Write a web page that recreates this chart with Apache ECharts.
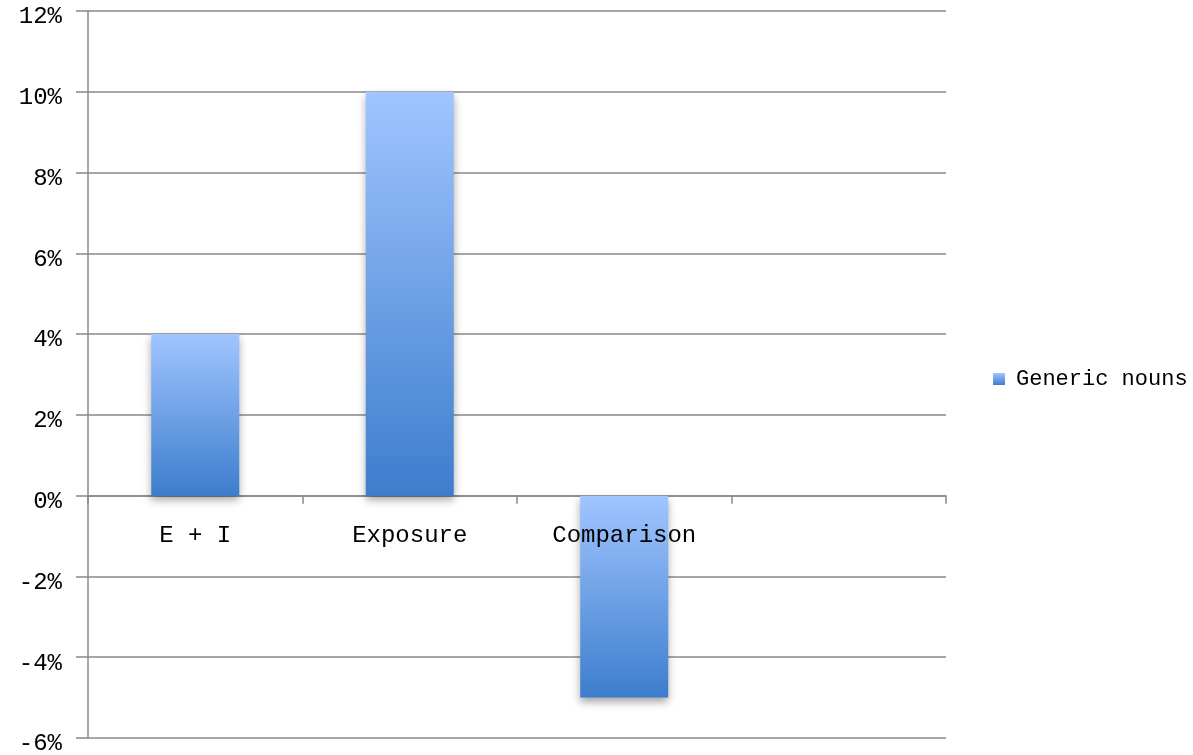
<!DOCTYPE html>
<html>
<head>
<meta charset="utf-8">
<script src="https://cdn.jsdelivr.net/npm/echarts@6/dist/echarts.min.js"></script>
<style>html,body{margin:0;padding:0;background:#fff}#c{width:1193px;height:755px}</style>
</head>
<body>
<div id="c"></div>
<script>
const categories = ['E + I', 'Exposure', 'Comparison', ''];
const seriesName = 'Generic nouns';
const values = [4, 10, -5, null];
const yTicks = { min: -6, max: 12, interval: 2 };

const font = 'Liberation Mono';
const grad = new echarts.graphic.LinearGradient(0, 0, 0, 1, [
  { offset: 0, color: '#a0c5ff' },
  { offset: 1, color: '#3d7dcd' }
]);
const chart = echarts.init(document.getElementById('c'));
chart.setOption({
  animation: false,
  backgroundColor: '#fff',
  grid: { left: 88, right: 247, top: 11, bottom: 17, containLabel: false, outerBoundsMode: 'none' },
  legend: {
    data: [seriesName], orient: 'vertical', left: 988, top: 363,
    itemWidth: 12, itemHeight: 12, icon: 'rect', itemGap: 6,
    textStyle: { fontFamily: font, fontSize: 22, color: '#000', padding: [0, 0, 0, 6] }
  },
  xAxis: {
    type: 'category', data: categories, boundaryGap: true,
    axisLine: { onZero: true, lineStyle: { color: '#888', width: 1.5 } },
    axisTick: { show: true, length: 8, lineStyle: { color: '#888', width: 1.5 }, alignWithLabel: false },
    axisLabel: { show: false },
    splitLine: { show: false }
  },
  yAxis: {
    type: 'value', min: yTicks.min, max: yTicks.max, interval: yTicks.interval,
    axisLine: { show: true, lineStyle: { color: '#888', width: 1.5 } },
    axisTick: { show: true, length: 12, lineStyle: { color: '#888', width: 1.5 } },
    axisLabel: { fontFamily: font, fontSize: 24, color: '#000', margin: 26,
      formatter: v => v + '%', verticalAlign: 'top', lineHeight: 12 },
    splitLine: { show: true, lineStyle: { color: '#888', width: 1.5 } }
  },
  series: [{
    name: seriesName, type: 'bar', data: values, barWidth: 88, z: 2,
    itemStyle: { color: grad, shadowBlur: 8, shadowOffsetY: 4, shadowColor: 'rgba(0,0,0,0.35)' }
  }, {
    name: 'categoryLabels', type: 'scatter', z: 5, silent: true,
    data: categories.map(c => [c, 0]),
    symbolSize: 0,
    itemStyle: { opacity: 1 },
    label: { show: true, position: 'bottom', distance: 28, formatter: p => p.data[0],
      fontFamily: font, fontSize: 24, color: '#000', opacity: 1 }
  }]
});
</script>
</body>
</html>
